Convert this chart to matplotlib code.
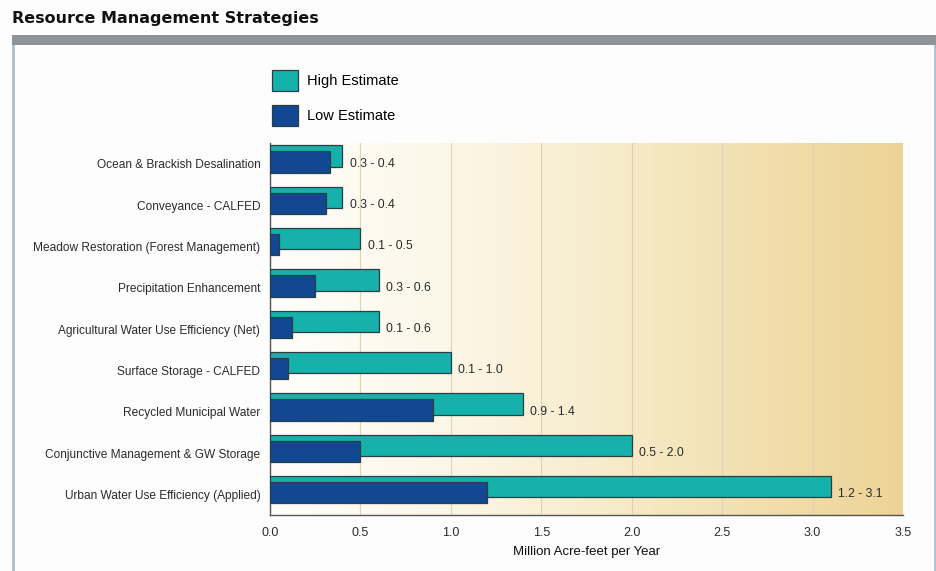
import numpy as np
import matplotlib.pyplot as plt
from matplotlib.patches import Rectangle, Patch
from matplotlib.colors import LinearSegmentedColormap

# data, top to bottom as drawn
strategies = ['Ocean & Brackish Desalination', 'Conveyance - CALFED',
              'Meadow Restoration (Forest Management)', 'Precipitation Enhancement',
              'Agricultural Water Use Efficiency (Net)', 'Surface Storage - CALFED',
              'Recycled Municipal Water', 'Conjunctive Management & GW Storage',
              'Urban Water Use Efficiency (Applied)']
high_est = [0.4, 0.4, 0.5, 0.6, 0.6, 1.0, 1.4, 2.0, 3.1]
low_est = [0.33, 0.31, 0.05, 0.25, 0.12, 0.1, 0.9, 0.5, 1.2]
range_labels = ['0.3 - 0.4', '0.3 - 0.4', '0.1 - 0.5', '0.3 - 0.6', '0.1 - 0.6',
                '0.1 - 1.0', '0.9 - 1.4', '0.5 - 2.0', '1.2 - 3.1']
xticks = [0.0, 0.5, 1.0, 1.5, 2.0, 2.5, 3.0, 3.5]

teal = '#16b1ab'
navy = '#124892'
edge = '#2a3f45'
txt = '#2b2b2b'

plt.rcParams['font.family'] = ['Liberation Sans', 'DejaVu Sans']

W, H = 937, 571
fig = plt.figure(figsize=(W / 100, H / 100), dpi=100)
fig.patch.set_facecolor('#fdfdfe')

def fx(px):
    return px / W

def fy(py):
    return 1 - py / H

# panel frame + grey header strip (kept behind the axes)
fig.patches.append(Rectangle((fx(13), -0.01), fx(922), fy(36) + 0.01, transform=fig.transFigure,
                             facecolor='#fdfdfe', edgecolor='#a9bfcb', lw=2, zorder=-2))
fig.patches.append(Rectangle((fx(12), fy(45)), fx(924), 10 / H, transform=fig.transFigure,
                             facecolor='#8f9498', edgecolor='none', zorder=-1))
fig.text(fx(12), fy(18), 'Resource Management Strategies', fontsize=11.5, fontweight='bold',
         family=['DejaVu Sans'], color='#111111', va='center', ha='left')

ax = fig.add_axes([fx(270), fy(515), fx(903 - 270), (515 - 143) / H])
ax.patch.set_alpha(0)

# background gradient white -> tan
cmap = LinearSegmentedColormap.from_list('bg', [(0, '#fffefb'), (0.3, '#fcf6e6'),
                                                (0.6, '#f5e8c2'), (1.0, '#edd396')])
grad = np.linspace(0, 1, 256).reshape(1, -1)
ax.imshow(grad, aspect='auto', cmap=cmap, extent=[0, 1, 0, 1],
          transform=ax.transAxes, zorder=0)

y = np.arange(len(strategies))
ax.barh(y - 0.185, high_est, height=0.51, color=teal, edgecolor=edge, lw=0.9, zorder=3)
ax.barh(y - 0.04, low_est, height=0.52, color=navy, edgecolor=edge, lw=0.9, zorder=4)

for i, lab in enumerate(range_labels):
    ax.text(high_est[i] + 0.04, y[i], lab, va='center', ha='left', fontsize=8.8,
            color=txt, zorder=5)

ax.set_xlim(0, 3.5)
ax.set_ylim(len(strategies) - 0.5, -0.5)
ax.set_xticks(xticks)
ax.set_xticklabels(['%.1f' % v for v in xticks], fontsize=9, color=txt)
ax.set_yticks(y)
ax.set_yticklabels(strategies, fontsize=8.6, color=txt)
ax.tick_params(length=0, pad=7)
ax.tick_params(axis='x', pad=9)
ax.grid(axis='x', color='#ddd2b4', lw=0.8, zorder=1)
ax.set_axisbelow(True)
for s in ['top', 'right']:
    ax.spines[s].set_visible(False)
for s in ['left', 'bottom']:
    ax.spines[s].set_color('#555555')
    ax.spines[s].set_linewidth(1.0)
ax.set_xlabel('Million Acre-feet per Year', fontsize=9.5, color='#111111', labelpad=5)

handles = [Patch(facecolor=teal, edgecolor=edge, lw=0.9),
           Patch(facecolor=navy, edgecolor=edge, lw=0.9)]
fig.legend(handles, ['High Estimate', 'Low Estimate'], loc='upper left',
           bbox_to_anchor=(fx(259), fy(57)), frameon=False, fontsize=10.5,
           handlelength=1.8, handleheight=1.85, labelspacing=0.95, handletextpad=0.6)

fig.savefig('out.png', dpi=100, facecolor=fig.get_facecolor())
